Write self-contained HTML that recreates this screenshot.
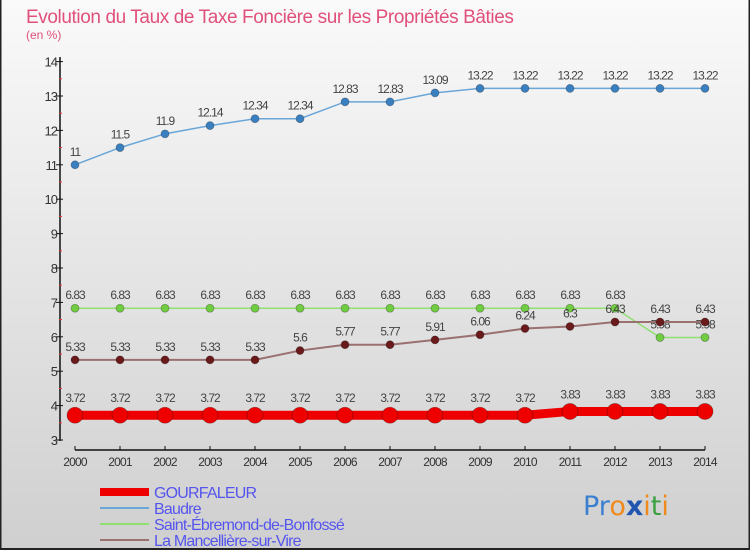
<!DOCTYPE html>
<html><head><meta charset="utf-8"><style>
html,body{margin:0;padding:0;}
body{width:750px;height:550px;overflow:hidden;font-family:"Liberation Sans",sans-serif;}
</style></head><body>
<svg id="chart" width="750" height="550" xmlns="http://www.w3.org/2000/svg">
<defs><linearGradient id="bg" x1="0" y1="0" x2="0" y2="1"><stop offset="0" stop-color="#fafafa"/><stop offset="1" stop-color="#cfcfcf"/></linearGradient></defs>
<rect x="0" y="0" width="750" height="550" fill="url(#bg)"/>
<rect x="0.5" y="-1" width="749" height="550" fill="none" stroke="#222" stroke-width="2"/>
<text x="26" y="23" font-size="19" fill="#e0507a" letter-spacing="-0.4">Evolution du Taux de Taxe Foncière sur les Propriétés Bâties</text>
<text x="26" y="39" font-size="12" fill="#e0507a">(en %)</text>
<g id="axes"></g><g id="series"></g><g id="legend"></g>
<text x="583" y="515" font-size="27" font-family="DejaVu Sans, sans-serif"><tspan fill="#3a7fd0">Pr</tspan><tspan fill="#f08a1c">o</tspan><tspan fill="#2255b0" font-weight="bold">x</tspan><tspan fill="#f08a1c">i</tspan><tspan fill="#3aa040">t</tspan><tspan fill="#f08a1c">i</tspan></text>
</svg>
<script>
const years=[2000,2001,2002,2003,2004,2005,2006,2007,2008,2009,2010,2011,2012,2013,2014];
const yTicks=[3,4,5,6,7,8,9,10,11,12,13,14];
const gourfaleur=[3.72,3.72,3.72,3.72,3.72,3.72,3.72,3.72,3.72,3.72,3.72,3.83,3.83,3.83,3.83];
const baudre=[11,11.5,11.9,12.14,12.34,12.34,12.83,12.83,13.09,13.22,13.22,13.22,13.22,13.22,13.22];
const saintEbremond=[6.83,6.83,6.83,6.83,6.83,6.83,6.83,6.83,6.83,6.83,6.83,6.83,6.83,5.98,5.98];
const mancelliere=[5.33,5.33,5.33,5.33,5.33,5.6,5.77,5.77,5.91,6.06,6.24,6.3,6.43,6.43,6.43];
const seriesNames=["GOURFALEUR","Baudre","Saint-Ébremond-de-Bonfossé","La Mancellière-sur-Vire"];
const NS="http://www.w3.org/2000/svg";
const X=i=>75+i*45;
const Y=v=>440-(v-3)*34.4;
function mk(tag,attrs,parent){const e=document.createElementNS(NS,tag);for(const k in attrs)e.setAttribute(k,attrs[k]);parent.appendChild(e);return e;}
const axes=document.getElementById('axes');
let a=mk('line',{x1:60,y1:57,x2:60,y2:441,stroke:'#111','stroke-width':1.5},axes);


a=mk('line',{x1:75,y1:450,x2:705,y2:450,stroke:'#111','stroke-width':1.5},axes);


yTicks.forEach(v=>{
 const t=mk('line',{x1:56,y1:Y(v),x2:63,y2:Y(v),stroke:'#111'},axes);
 
 
 if(v<14){const m=mk('line',{x1:59,y1:Y(v+0.5),x2:62,y2:Y(v+0.5),stroke:'#e33'},axes);
 
 }
 const l=mk('text',{x:57,y:Y(v)+5,'text-anchor':'end','font-size':13,fill:'#333','letter-spacing':-1},axes);
 l.textContent=v;
 
 
});
years.forEach((yr,i)=>{
 const t=mk('line',{x1:X(i),y1:446,x2:X(i),y2:450,stroke:'#111'},axes);
 
 
 const l=mk('text',{x:X(i),y:466,'text-anchor':'middle','font-size':12,fill:'#333','letter-spacing':-0.8},axes);
 l.textContent=yr;
 
 
});
const S=document.getElementById('series');
const defs=[
 {d:baudre,line:'#6aa6d8',pt:'#3a80c0',w:1.5,r:4,name:'baudre'},
 {d:saintEbremond,line:'#90e070',pt:'#70cc40',w:1.5,r:4,name:'saint-ebremond'},
 {d:mancelliere,line:'#9a7070',pt:'#6a1a1a',w:2,r:4,name:'la-manceliere'},
 {d:gourfaleur,line:'#ee0000',pt:'#ee0000',w:9,r:8,name:'gourfaleur'}
];
defs.forEach(s=>{
 const g=mk('g',{},S);
 
 
 const p=mk('polyline',{points:s.d.map((v,i)=>X(i)+','+Y(v)).join(' '),fill:'none',stroke:s.line,'stroke-width':s.w},g);
 
 
 s.d.forEach((v,i)=>{
  const c=mk('circle',{cx:X(i),cy:Y(v),r:s.r,fill:s.pt,stroke:'rgba(0,0,0,0.3)','stroke-width':0.8},g);
  
  
  const t=mk('text',{x:X(i),y:Y(v)-(s.r+5),'text-anchor':'middle','font-size':12,fill:'#444','letter-spacing':-1},g);
  t.textContent=v;
  
  
 });
});
const L=document.getElementById('legend');
const lc=['#ee0000','#6aa6d8','#90e070','#9a7070'],lw=[8,2,2,2];
seriesNames.forEach((n,i)=>{
 const y=492+i*16;
 const ln=mk('line',{x1:100,y1:y,x2:149,y2:y,stroke:lc[i],'stroke-width':lw[i]},L);
 
 
 const t=mk('text',{x:154,y:y+6,'font-size':16,fill:'#5555ee','letter-spacing':-0.8},L);
 t.textContent=n;
 
 
});
</script>
</body></html>
